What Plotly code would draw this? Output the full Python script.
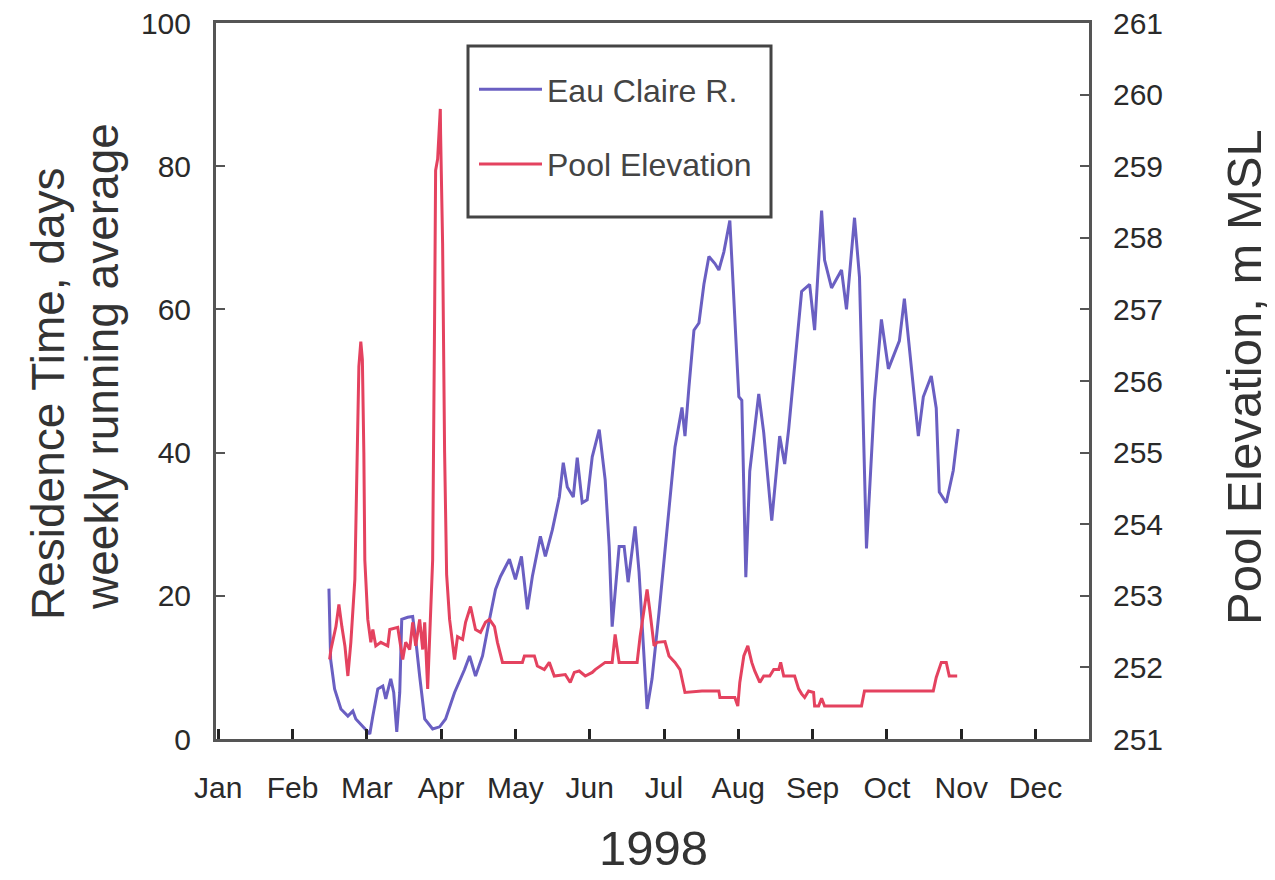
import plotly.graph_objects as go

# x positions in months since Jan 1 (0 = Jan, 1 = Feb, ...)
month_labels = ["Jan", "Feb", "Mar", "Apr", "May", "Jun", "Jul", "Aug", "Sep", "Oct", "Nov", "Dec"]
month_ticks = list(range(12))

eau_t = [1.490, 1.513, 1.566, 1.651, 1.745, 1.812, 1.852, 1.946, 2.040, 2.081, 2.148, 2.215, 2.255, 2.322,
         2.362, 2.403, 2.443, 2.470, 2.550, 2.617, 2.658, 2.711, 2.779, 2.886, 2.980, 3.060, 3.181, 3.315,
         3.383, 3.463, 3.557, 3.651, 3.732, 3.799, 3.919, 4.000, 4.081, 4.161, 4.228, 4.336, 4.403, 4.497,
         4.591, 4.644, 4.698, 4.779, 4.832, 4.899, 4.966, 5.034, 5.128, 5.208, 5.262, 5.302, 5.396, 5.463,
         5.517, 5.611, 5.664, 5.772, 5.839, 5.933, 6.067, 6.148, 6.242, 6.282, 6.336, 6.403, 6.470, 6.537,
         6.604, 6.685, 6.738, 6.805, 6.886, 6.953, 7.007, 7.047, 7.101, 7.154, 7.275, 7.342, 7.450, 7.557,
         7.624, 7.678, 7.785, 7.852, 7.960, 8.027, 8.121, 8.161, 8.255, 8.389, 8.456, 8.564, 8.631, 8.725,
         8.832, 8.926, 9.020, 9.168, 9.235, 9.356, 9.423, 9.490, 9.597, 9.664, 9.705, 9.799, 9.893, 9.960]
eau_days = [21.0, 11.1, 7.0, 4.2, 3.2, 3.9, 2.8, 1.8, 0.7, 3.2, 7.0, 7.4, 5.6, 8.4,
            6.5, 1.0, 6.5, 16.7, 17.0, 17.1, 13.9, 8.8, 2.8, 1.4, 1.7, 2.8, 6.5, 9.7,
            11.6, 8.8, 11.6, 16.7, 20.9, 22.7, 25.1, 22.3, 25.5, 18.1, 22.7, 28.3, 25.5, 29.2,
            33.8, 38.6, 35.2, 33.8, 39.3, 33.0, 33.4, 39.4, 43.2, 36.2, 26.9, 15.7, 26.9, 26.9,
            21.9, 29.7, 23.3, 4.2, 8.4, 17.7, 32.5, 40.8, 46.3, 42.3, 49.2, 57.1, 58.1, 63.5,
            67.4, 66.4, 65.5, 68.0, 72.4, 59.6, 47.8, 47.3, 22.6, 37.4, 48.2, 42.8, 30.5, 42.3,
            38.4, 43.3, 54.6, 62.5, 63.5, 57.1, 73.8, 66.9, 63.0, 65.5, 60.0, 72.8, 64.5, 26.6,
            47.3, 58.6, 51.7, 55.6, 61.5, 49.7, 42.3, 47.8, 50.7, 46.2, 34.5, 33.0, 37.5, 43.3]

pool_t = [1.499, 1.517, 1.584, 1.624, 1.664, 1.705, 1.745, 1.785, 1.839, 1.879, 1.893, 1.919, 1.940, 1.960,
          1.973, 2.013, 2.054, 2.081, 2.121, 2.188, 2.282, 2.309, 2.416, 2.483, 2.523, 2.577, 2.617, 2.658,
          2.711, 2.752, 2.779, 2.819, 2.859, 2.886, 2.913, 2.926, 2.953, 2.989, 2.993, 3.020, 3.047, 3.074,
          3.114, 3.181, 3.221, 3.289, 3.329, 3.396, 3.463, 3.530, 3.597, 3.651, 3.718, 3.758, 3.826, 4.094,
          4.121, 4.255, 4.295, 4.389, 4.456, 4.523, 4.671, 4.738, 4.792, 4.859, 4.940, 5.034, 5.074, 5.208,
          5.302, 5.342, 5.396, 5.638, 5.678, 5.772, 5.812, 5.866, 5.906, 6.013, 6.067, 6.148, 6.215, 6.282,
          6.510, 6.738, 6.752, 6.953, 6.993, 7.020, 7.074, 7.128, 7.181, 7.221, 7.289, 7.342, 7.423, 7.477,
          7.544, 7.570, 7.611, 7.758, 7.812, 7.852, 7.893, 7.946, 8.013, 8.027, 8.081, 8.121, 8.161, 8.658,
          8.698, 9.624, 9.664, 9.732, 9.799, 9.839, 9.946]
pool_elev = [252.11, 252.25, 252.57, 252.88, 252.57, 252.30, 251.88, 252.35, 253.23, 255.50, 256.20, 256.55, 256.30, 255.00,
             253.50, 252.67, 252.35, 252.53, 252.30, 252.35, 252.30, 252.53, 252.56, 252.11, 252.35, 252.25, 252.63, 252.30,
             252.67, 252.25, 252.63, 251.70, 252.81, 253.50, 257.00, 258.94, 259.10, 259.80, 259.45, 257.92, 255.00, 253.30,
             252.67, 252.11, 252.43, 252.39, 252.63, 252.85, 252.53, 252.49, 252.63, 252.67, 252.57, 252.35, 252.07, 252.07,
             252.16, 252.16, 252.02, 251.97, 252.07, 251.88, 251.90, 251.79, 251.93, 251.95, 251.88, 251.93, 251.97, 252.07,
             252.07, 252.46, 252.07, 252.07, 252.43, 253.09, 252.77, 252.30, 252.35, 252.36, 252.16, 252.07, 251.97, 251.65,
             251.67, 251.67, 251.58, 251.58, 251.46, 251.79, 252.16, 252.30, 252.07, 251.95, 251.79, 251.88, 251.88, 251.97,
             251.97, 252.07, 251.88, 251.88, 251.70, 251.63, 251.58, 251.67, 251.65, 251.46, 251.46, 251.57, 251.46, 251.46,
             251.67, 251.67, 251.86, 252.07, 252.07, 251.88, 251.88]

FONT = "Liberation Sans, Arial, sans-serif"
AXC = "#555555"
TXT = "#2a2a2a"

# plot area (page pixels) and page offset compensation
L, T, PW, PH = 208, 15, 873, 716
R = 1275 - L - PW
B = 880 - T - PH


def px(xp):
    return (xp - 215) / PW


def py(yp):
    return (740 - yp) / PH


fig = go.Figure()
fig.add_trace(go.Scatter(x=eau_t, y=eau_days, mode="lines", name="Eau Claire R.",
                         line=dict(color="#6a5fc2", width=3), legendgroup="a"))
fig.add_trace(go.Scatter(x=pool_t, y=pool_elev, mode="lines", name="Pool Elevation", yaxis="y2",
                         line=dict(color="#e4425f", width=3), legendgroup="b"))

fig.update_layout(
    width=1275, height=880,
    margin=dict(l=L, r=R, t=T, b=B, autoexpand=False),
    paper_bgcolor="white", plot_bgcolor="white",
    font=dict(family=FONT, color=TXT, size=28),
    showlegend=True,
    legend=dict(x=px(473), y=py(63), xanchor="left", yanchor="top",
                bgcolor="rgba(255,255,255,0)", borderwidth=0,
                font=dict(size=32, color="#444444"), tracegroupgap=30,
                itemwidth=63),
    xaxis=dict(range=[-0.03, 11.72], tickmode="array", tickvals=month_ticks, ticktext=month_labels,
               ticks="inside", ticklen=10, tickwidth=2.5, tickcolor="#222222",
               showline=True, linecolor=AXC, linewidth=3, mirror=True,
               showgrid=False, zeroline=False, ticklabelstandoff=20, automargin=False,
               tickfont=dict(size=30, color=TXT)),
    yaxis=dict(range=[0, 100], tickvals=[0, 20, 40, 60, 80, 100],
               ticks="inside", ticklen=9, tickwidth=2, tickcolor=AXC,
               showline=True, linecolor=AXC, linewidth=3,
               showgrid=False, zeroline=False, ticklabelstandoff=16,
               ticklabeloverflow="allow", automargin=False,
               tickfont=dict(size=30, color=TXT)),
    yaxis2=dict(range=[251, 261], tickvals=list(range(251, 262)), overlaying="y", side="right",
                ticks="inside", ticklen=9, tickwidth=2, tickcolor=AXC,
                showline=True, linecolor=AXC, linewidth=3,
                showgrid=False, zeroline=False, ticklabelstandoff=15,
                ticklabeloverflow="allow", automargin=False,
                tickfont=dict(size=30, color=TXT)),
    shapes=[dict(type="rect", xref="paper", yref="paper",
                 x0=px(467), x1=px(770), y0=py(218), y1=py(47),
                 line=dict(color="#444444", width=3), fillcolor="rgba(0,0,0,0)")],
    annotations=[
        dict(text="Residence Time, days", xref="paper", yref="paper", x=px(47), y=py(395),
             textangle=-90, showarrow=False, xanchor="center", yanchor="middle",
             font=dict(size=46, color="#333333")),
        dict(text="weekly running average", xref="paper", yref="paper", x=px(101), y=py(368),
             textangle=-90, showarrow=False, xanchor="center", yanchor="middle",
             font=dict(size=46, color="#333333")),
        dict(text="Pool Elevation, m MSL", xref="paper", yref="paper", x=px(1243), y=py(378),
             textangle=-90, showarrow=False, xanchor="center", yanchor="middle",
             font=dict(size=49, color="#333333")),
        dict(text="1998", xref="paper", yref="paper", x=px(652), y=py(849),
             showarrow=False, xanchor="center", yanchor="middle",
             font=dict(size=49, color="#333333")),
    ],
)

fig.write_html("out.html")
